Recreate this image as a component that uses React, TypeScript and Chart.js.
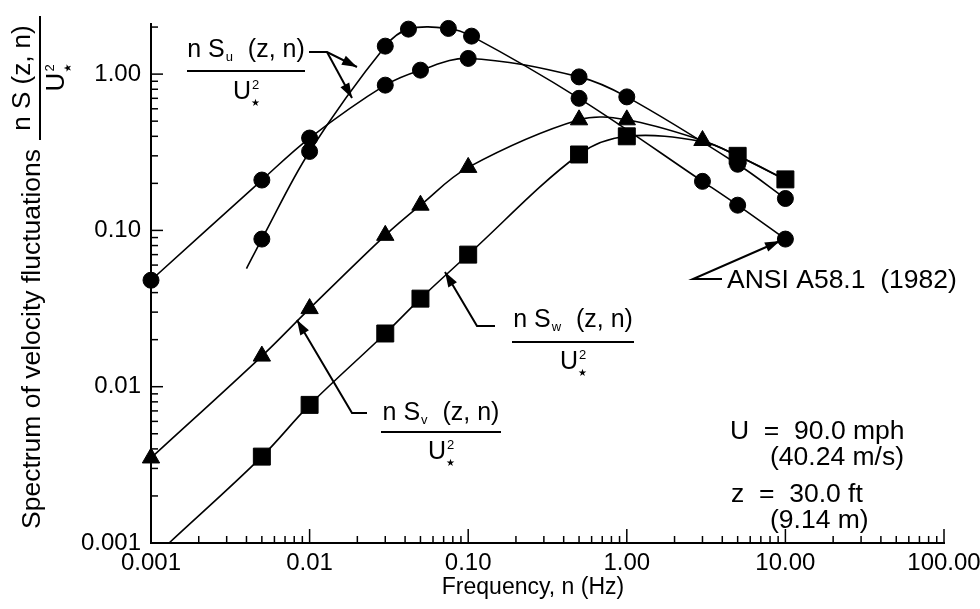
import React, { useEffect, useRef } from "react";
import { Chart, registerables } from "chart.js";

Chart.register(...registerables);

const FONT = "'Liberation Sans', Arial, Helvetica, sans-serif";

// Axis ticks
const xTickValues = [0.001, 0.01, 0.1, 1, 10, 100];
const xTickLabels = ["0.001", "0.01", "0.10", "1.00", "10.00", "100.00"];
const yTickValues = [0.001, 0.01, 0.1, 1];
const yTickLabels = ["0.001", "0.01", "0.10", "1.00"];

// ANSI A58.1 (1982) longitudinal spectrum (broad peak)
const ansiFreq = [0.001, 0.005, 0.01, 0.03, 0.05, 0.1, 0.5, 1, 5, 10];
const ansiVal = [0.048, 0.21, 0.39, 0.85, 1.06, 1.26, 0.96, 0.715, 0.265, 0.16];
const ansiUnmarked: number[] = [];

// n Su(z,n)/U*^2 (sharp peak)
const suFreq = [0.004, 0.005, 0.01, 0.03, 0.042, 0.075, 0.105, 0.5, 3, 5, 10];
const suVal = [0.057, 0.088, 0.32, 1.51, 1.94, 1.96, 1.75, 0.7, 0.206, 0.145, 0.088];
const suUnmarked = [0];

// n Sv(z,n)/U*^2 (triangles)
const svFreq = [0.001, 0.005, 0.01, 0.03, 0.05, 0.1, 0.5, 1, 3, 5, 10];
const svVal = [0.0035, 0.0157, 0.0316, 0.093, 0.145, 0.253, 0.51, 0.51, 0.376, 0.3, 0.21];
const svUnmarked = [9, 10];

// n Sw(z,n)/U*^2 (squares)
const swFreq = [0.0013, 0.005, 0.01, 0.03, 0.05, 0.1, 0.5, 1, 3, 5, 10];
const swVal = [0.001, 0.00357, 0.00765, 0.0219, 0.0366, 0.07, 0.306, 0.4, 0.37, 0.3, 0.212];
const swUnmarked = [0, 8];

const toPoints = (fx: number[], fy: number[]) => fx.map((x, i) => ({ x, y: fy[i] }));

function lineDataset(fx: number[], fy: number[], unmarked: number[], style: string, radius: number) {
  return {
    data: toPoints(fx, fy),
    borderColor: "#000",
    borderWidth: 1.6,
    backgroundColor: "#000",
    pointStyle: style,
    pointBackgroundColor: "#000",
    pointBorderColor: "#000",
    pointBorderWidth: 1,
    pointRadius: (ctx: any) => (unmarked.includes(ctx.dataIndex) ? 0 : radius),
    tension: 0.35,
    clip: false,
    fill: false,
  };
}

function drawArrow(ctx: CanvasRenderingContext2D, pts: [number, number][]) {
  ctx.save();
  ctx.strokeStyle = "#000";
  ctx.fillStyle = "#000";
  ctx.lineWidth = 2;
  ctx.beginPath();
  ctx.moveTo(pts[0][0], pts[0][1]);
  for (let i = 1; i < pts.length; i++) ctx.lineTo(pts[i][0], pts[i][1]);
  ctx.stroke();
  const [x2, y2] = pts[pts.length - 1];
  const [x1, y1] = pts[pts.length - 2];
  const a = Math.atan2(y2 - y1, x2 - x1);
  const L = 15, W = 5;
  ctx.beginPath();
  ctx.moveTo(x2, y2);
  ctx.lineTo(x2 - L * Math.cos(a) + W * Math.sin(a), y2 - L * Math.sin(a) - W * Math.cos(a));
  ctx.lineTo(x2 - L * Math.cos(a) - W * Math.sin(a), y2 - L * Math.sin(a) + W * Math.cos(a));
  ctx.closePath();
  ctx.fill();
  ctx.restore();
}

function drawNumerator(ctx: CanvasRenderingContext2D, cx: number, cy: number, sub: string, size: number) {
  const big = `${size}px ${FONT}`;
  const small = `${Math.round(size * 0.5)}px ${FONT}`;
  const a = "n S";
  const c = sub ? "  (z, n)" : " (z, n)";
  ctx.font = big;
  const wa = ctx.measureText(a).width;
  const wc = ctx.measureText(c).width;
  ctx.font = small;
  const wb = sub ? ctx.measureText(sub).width + 2 : 0;
  const total = wa + wb + wc;
  let x = cx - total / 2;
  ctx.textAlign = "left";
  ctx.textBaseline = "middle";
  ctx.font = big;
  ctx.fillText(a, x, cy);
  x += wa;
  if (sub) {
    ctx.font = small;
    ctx.fillText(sub, x + 1, cy + size * 0.3);
    x += wb;
  }
  ctx.font = big;
  ctx.fillText(c, x, cy);
}

function drawDenominator(ctx: CanvasRenderingContext2D, cx: number, cy: number, size: number) {
  ctx.font = `${size}px ${FONT}`;
  ctx.textAlign = "center";
  ctx.textBaseline = "middle";
  ctx.fillText("U", cx, cy);
  const w = ctx.measureText("U").width;
  ctx.textAlign = "left";
  ctx.font = `${Math.round(size * 0.5)}px ${FONT}`;
  ctx.fillText("2", cx + w / 2 + 1, cy - size * 0.25);
  ctx.font = `${Math.round(size * 0.4)}px 'DejaVu Sans', sans-serif`;
  ctx.fillText("\u2605", cx + w / 2, cy + size * 0.45);
}

function drawFraction(ctx: CanvasRenderingContext2D, cx: number, numY: number, barY: number, denY: number, halfBar: number, sub: string, size: number) {
  ctx.fillStyle = "#000";
  drawNumerator(ctx, cx, numY, sub, size);
  ctx.save();
  ctx.strokeStyle = "#000";
  ctx.lineWidth = 2;
  ctx.beginPath();
  ctx.moveTo(cx - halfBar, barY);
  ctx.lineTo(cx + halfBar, barY);
  ctx.stroke();
  ctx.restore();
  drawDenominator(ctx, cx - 4, denY, size);
}

const decorPlugin = {
  id: "decor",
  afterDraw(chart: any) {
    const ctx: CanvasRenderingContext2D = chart.ctx;
    const xs = chart.scales.x;
    const ys = chart.scales.y;
    const area = chart.chartArea;
    ctx.save();
    ctx.strokeStyle = "#000";
    ctx.lineWidth = 1.5;
    // inward log ticks, x axis
    for (let k = -3; k <= 2; k++) {
      for (let m = 1; m <= 9; m++) {
        const v = m * Math.pow(10, k);
        if (v < xs.min * 0.999 || v > xs.max * 1.001) continue;
        const px = xs.getPixelForValue(v);
        const len = m === 1 ? 14 : 7;
        ctx.beginPath();
        ctx.moveTo(px, area.bottom);
        ctx.lineTo(px, area.bottom - len);
        ctx.stroke();
      }
    }
    // inward log ticks, y axis
    for (let k = -3; k <= 0; k++) {
      for (let m = 1; m <= 9; m++) {
        const v = m * Math.pow(10, k);
        if (v < ys.min * 0.999 || v > ys.max * 1.001) continue;
        const py = ys.getPixelForValue(v);
        const len = m === 1 ? 12 : 7;
        ctx.beginPath();
        ctx.moveTo(area.left, py);
        ctx.lineTo(area.left + len, py);
        ctx.stroke();
      }
    }
    ctx.restore();

    ctx.save();
    ctx.fillStyle = "#000";
    // Y axis title (rotated)
    ctx.save();
    ctx.translate(33, 339);
    ctx.rotate(-Math.PI / 2);
    ctx.font = `26.5px ${FONT}`;
    ctx.textAlign = "center";
    ctx.textBaseline = "middle";
    ctx.fillText("Spectrum of velocity fluctuations", 0, 0);
    ctx.restore();
    ctx.save();
    ctx.translate(40, 78);
    ctx.rotate(-Math.PI / 2);
    drawFraction(ctx, 0, -17, 0, 17, 62, "", 26);
    ctx.restore();

    // X axis title
    ctx.font = `23px ${FONT}`;
    ctx.textAlign = "center";
    ctx.textBaseline = "middle";
    ctx.fillText("Frequency, n (Hz)", 533, 588);

    // Curve labels
    drawFraction(ctx, 246, 50, 71, 92, 59, "u", 25);
    drawArrow(ctx, [[309, 52], [327, 52], [357, 67]]);
    drawArrow(ctx, [[327, 52], [352, 98]]);

    drawFraction(ctx, 573, 320, 342, 362, 61, "w", 25);
    drawArrow(ctx, [[495, 326], [477, 326], [445, 272]]);

    drawFraction(ctx, 441, 413, 432, 452, 60, "v", 25);
    drawArrow(ctx, [[367, 413], [352, 413], [297, 320]]);

    // ANSI label
    ctx.font = `26.5px ${FONT}`;
    ctx.textAlign = "left";
    ctx.textBaseline = "middle";
    ctx.fillText("ANSI A58.1  (1982)", 727, 281);
    drawArrow(ctx, [[722, 279], [693, 279], [780, 241]]);

    // Condition text
    ctx.font = `26.5px ${FONT}`;
    ctx.textAlign = "left";
    ctx.fillText("U  =  90.0 mph", 730, 432);
    ctx.fillText("(40.24 m/s)", 770, 458);
    ctx.fillText("z  =  30.0 ft", 731, 495);
    ctx.fillText("(9.14 m)", 770, 521);
    ctx.restore();
  },
};

export default function App() {
  const canvasRef = useRef<HTMLCanvasElement | null>(null);

  useEffect(() => {
    const canvas = canvasRef.current;
    if (!canvas) return;
    const chart = new Chart(canvas, {
      type: "line",
      data: {
        datasets: [
          lineDataset(swFreq, swVal, swUnmarked, "rect", 12),
          lineDataset(svFreq, svVal, svUnmarked, "triangle", 10),
          lineDataset(ansiFreq, ansiVal, ansiUnmarked, "circle", 8),
          lineDataset(suFreq, suVal, suUnmarked, "circle", 8),
        ] as any,
      },
      options: {
        responsive: false,
        animation: false,
        events: [],
        layout: { padding: { left: 0, top: 21, right: 36, bottom: 0 } },
        plugins: { legend: { display: false }, tooltip: { enabled: false }, title: { display: false } },
        scales: {
          x: {
            type: "logarithmic",
            min: 0.001,
            max: 100,
            grid: { display: false, drawTicks: false },
            border: { display: true, color: "#000", width: 2 },
            afterBuildTicks: (axis: any) => {
              axis.ticks = xTickValues.map((v) => ({ value: v }));
            },
            afterFit: (scale: any) => {
              scale.height = 66;
              scale.paddingLeft = 0;
              scale.paddingRight = 0;
            },
            ticks: {
              autoSkip: false,
              maxRotation: 0,
              padding: 6,
              color: "#000",
              font: { family: FONT, size: 24 },
              callback: (v: any) => {
                const i = xTickValues.findIndex((t) => Math.abs(t - Number(v)) / t < 1e-6);
                return i >= 0 ? xTickLabels[i] : "";
              },
            },
          },
          y: {
            type: "logarithmic",
            min: 0.001,
            max: 2.08,
            grid: { display: false, drawTicks: false },
            border: { display: true, color: "#000", width: 2 },
            afterBuildTicks: (axis: any) => {
              axis.ticks = yTickValues.map((v) => ({ value: v }));
            },
            afterFit: (scale: any) => {
              scale.width = 151;
            },
            ticks: {
              autoSkip: false,
              padding: 10,
              color: "#000",
              font: { family: FONT, size: 24 },
              callback: (v: any) => {
                const i = yTickValues.findIndex((t) => Math.abs(t - Number(v)) / t < 1e-6);
                return i >= 0 ? yTickLabels[i] : "";
              },
            },
          },
        },
      },
      plugins: [decorPlugin],
    });
    return () => chart.destroy();
  }, []);

  return (
    <div style={{ position: "fixed", left: 0, top: 0, width: 980, height: 609, background: "#fff" }}>
      <canvas ref={canvasRef} width={980} height={609} style={{ width: 980, height: 609, display: "block" }} />
    </div>
  );
}
